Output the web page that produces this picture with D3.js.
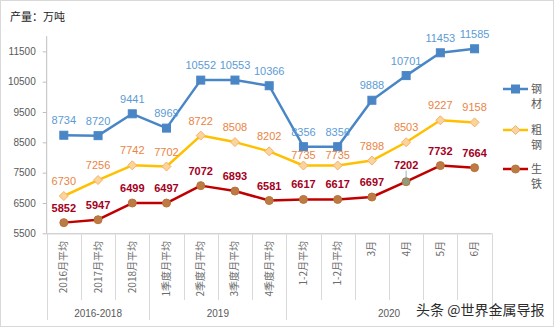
<!DOCTYPE html>
<html><head><meta charset="utf-8">
<script src="https://cdn.jsdelivr.net/npm/d3@7/dist/d3.min.js"></script>
<style>body{margin:0;background:#fff}svg{display:block}</style>
</head><body>
<script>
const categories = ["2016月平均","2017月平均","2018月平均","1季度月平均","2季度月平均","3季度月平均","4季度月平均","1-2月平均","1-2月平均","3月","4月","5月","6月"];
const groupNames = ["2016-2018","2019","2020"];
const groupSizes = [3,4,6];
const steel = [8734,8720,9441,8969,10552,10553,10366,8356,8356,9888,10701,11453,11585];
const crude = [6730,7256,7742,7702,8722,8508,8202,7735,7735,7898,8503,9227,9158];
const pig   = [5852,5947,6499,6497,7072,6893,6581,6617,6617,6697,7202,7732,7664];
const yTicks = [5500,6500,7500,8500,9500,10500,11500];
const seriesNames = ["钢材","粗钢","生铁"];

const W=554,H=327;
const svg=d3.select("body").append("svg").attr("width",W).attr("height",H);
svg.append("rect").attr("x",0.5).attr("y",0.5).attr("width",W-1).attr("height",H-1).attr("fill","#fff").attr("stroke","#d9d9d9");

const L=46.7,R=491.7,T=36.2,B=233.3;
const x=d3.scaleBand().domain(d3.range(categories.length)).range([L,R]);
const y=d3.scaleLinear().domain([5500,12000]).range([B,T]);
const cx=i=>x(i)+x.bandwidth()/2;
const latin="'Liberation Sans','Noto Sans CJK SC',sans-serif";
const cjk="'Noto Sans CJK SC',sans-serif";

// title
svg.append("text").attr("x",10).attr("y",21).attr("font-family",cjk).attr("font-size",11).attr("fill","#1a1a1a").text("产量：万吨");

// y axis
const ya=svg.append("g").attr("transform",`translate(${L},0)`).call(d3.axisLeft(y).tickValues(yTicks).tickSize(4).tickPadding(7).tickFormat(d3.format("d")));
ya.select(".domain").attr("stroke","#bfbfbf").attr("d",`M-0,${B}V${T}`);
ya.selectAll(".tick line").attr("stroke","#bfbfbf");
ya.selectAll(".tick text").attr("font-family",latin).attr("font-size",10).attr("fill","#595959");

// x axis
const xa=svg.append("g").attr("transform",`translate(0,${B})`).call(d3.axisBottom(x).tickSize(0).tickFormat(""));
xa.select(".domain").attr("stroke","#bfbfbf").attr("d",`M${L},0.5H${R}`);
xa.selectAll(".tick").remove();
const bounds=d3.range(categories.length+1).map(i=>i<categories.length?x(i):R);
let cum=[0];groupSizes.forEach(s=>cum.push(cum[cum.length-1]+s));
bounds.forEach((bx,i)=>{
  const isGroup=cum.includes(i);
  svg.append("line").attr("x1",Math.round(bx)+0.5).attr("x2",Math.round(bx)+0.5).attr("y1",B).attr("y2",isGroup?320:300).attr("stroke","#d9d9d9");
});
categories.forEach((c,i)=>{
  svg.append("text").attr("transform",`translate(${cx(i)+3.5},241) rotate(-90)`).attr("text-anchor","end")
    .attr("font-family",cjk).attr("font-size",10).attr("fill","#6b6b6b").text(c);
});
groupNames.forEach((g,k)=>{
  const a=x(cum[k]), b=cum[k+1]<categories.length?x(cum[k+1]):R;
  svg.append("text").attr("x",(a+b)/2).attr("y",317).attr("text-anchor","middle").attr("font-family",latin).attr("font-size",10).attr("fill","#595959").text(g);
});

const line=d3.line().x((d,i)=>cx(i)).y(d=>y(d));
const series=[
 {name:seriesNames[0],data:steel,color:"#4a86c6",label:"#5b9bd5",bold:false,marker:"square",mfill:"#4a86c6",mstroke:"#4a86c6"},
 {name:seriesNames[1],data:crude,color:"#ffc000",label:"#ea8444",bold:false,marker:"diamond",mfill:"#fbd49a",mstroke:"#f4b16d"},
 {name:seriesNames[2],data:pig,color:"#c00000",label:"#a50021",bold:true,marker:"circle",mfill:"#bd7a43",mstroke:"#b8733c"}
];
function drawMarker(g,type,px,py,fill,stroke){
  if(type==="square") g.append("rect").attr("x",px-4).attr("y",py-4).attr("width",8).attr("height",8).attr("fill",fill).attr("stroke",stroke);
  else if(type==="diamond") g.append("path").attr("d",`M${px},${py-4.5}L${px+4.5},${py}L${px},${py+4.5}L${px-4.5},${py}Z`).attr("fill",fill).attr("stroke",stroke);
  else g.append("circle").attr("cx",px).attr("cy",py).attr("r",4).attr("fill",fill).attr("stroke",stroke);
}
series.forEach((s,k)=>{
  svg.append("path").datum(s.data).attr("d",line).attr("fill","none").attr("stroke",s.color).attr("stroke-width",2.5).attr("stroke-linejoin","round");
  const g=svg.append("g");
  s.data.forEach((v,i)=>{
    let f=s.mfill;
    if(s.marker==="circle"&&i===10) f="#8c9c80";
    drawMarker(g,s.marker,cx(i),y(v),f,s.mstroke);
  });
  s.data.forEach((v,i)=>{
    let off=11;
    if(k===1&&(i===7||i===8)) off=7;
    if(k===2&&i===10){off=13;
      svg.append("line").attr("x1",cx(i)).attr("x2",cx(i)).attr("y1",y(v)-11).attr("y2",y(v)-3).attr("stroke","#7f9fb0").attr("stroke-width",0.8);}
    svg.append("text").attr("x",cx(i)).attr("y",y(v)-off).attr("text-anchor","middle")
      .attr("font-family",latin).attr("font-size",11).attr("font-weight",s.bold?"bold":"normal").attr("fill",s.label).text(v);
  });
});

// legend
const legY=[89,130,169];
series.forEach((s,k)=>{
  const ly=legY[k];
  svg.append("line").attr("x1",503).attr("x2",528).attr("y1",ly).attr("y2",ly).attr("stroke",s.color).attr("stroke-width",2.5);
  drawMarker(svg,s.marker,515.5,ly,s.mfill,s.mstroke);
  s.name.split("").forEach((ch,j)=>{
    svg.append("text").attr("x",531).attr("y",ly+4+j*15).attr("font-family",cjk).attr("font-size",11).attr("fill","#595959").text(ch);
  });
});

// watermark
svg.append("text").attr("x",416).attr("y",315).attr("font-family",cjk).attr("font-size",14).attr("fill","#2b2b2b").text("头条 @世界金属导报");
</script>
</body></html>
